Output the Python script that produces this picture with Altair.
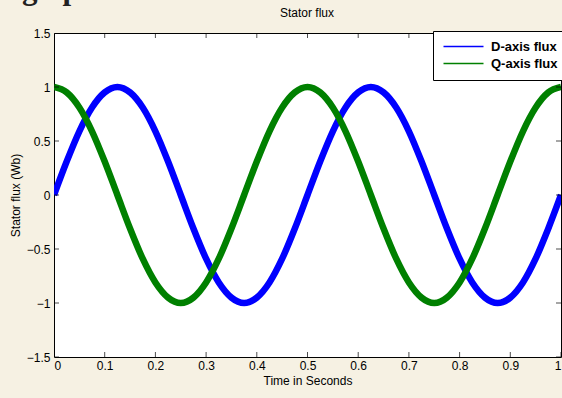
import altair as alt
import pandas as pd

time_s = [round(i * 0.025, 3) for i in range(41)]
d_flux = [0, .31, .59, .81, .95, 1.0, .95, .81, .59, .31, 0, -.31, -.59, -.81, -.95, -1.0, -.95, -.81, -.59, -.31,
          0, .31, .59, .81, .95, 1.0, .95, .81, .59, .31, 0, -.31, -.59, -.81, -.95, -1.0, -.95, -.81, -.59, -.31, 0]
q_flux = [1.0, .95, .81, .59, .31, 0, -.31, -.59, -.81, -.95, -1.0, -.95, -.81, -.59, -.31, 0, .31, .59, .81, .95,
          1.0, .95, .81, .59, .31, 0, -.31, -.59, -.81, -.95, -1.0, -.95, -.81, -.59, -.31, 0, .31, .59, .81, .95, 1.0]
series_names = ["D-axis flux", "Q-axis flux"]
series_colors = ["#0000ff", "#008000"]
x_ticks = [0, 0.1, 0.2, 0.3, 0.4, 0.5, 0.6, 0.7, 0.8, 0.9, 1.0]
y_ticks = [-1.5, -1, -0.5, 0, 0.5, 1, 1.5]
chart_title = ["Stator flux"]
watermark_text = ["g Speed wave"]

df = pd.DataFrame({
    "t": time_s * 2,
    "v": d_flux + q_flux,
    "s": [series_names[0]] * len(time_s) + [series_names[1]] * len(time_s),
})

FONT = "Liberation Sans"
xs = alt.Scale(domain=[0, 1], nice=False, zero=False)
ys = alt.Scale(domain=[-1.5, 1.5], nice=False, zero=False)

lines = alt.Chart(df).mark_line(strokeWidth=6.5, interpolate="monotone", clip=True).encode(
    x=alt.X("t:Q", scale=xs, title="Time in Seconds",
            axis=alt.Axis(values=x_ticks, format="~g", tickSize=0, labelPadding=3, grid=False)),
    y=alt.Y("v:Q", scale=ys, title="Stator flux (Wb)",
            axis=alt.Axis(values=y_ticks, format="~g", tickSize=0, labelPadding=4, grid=False)),
    color=alt.Color("s:N", scale=alt.Scale(domain=series_names, range=series_colors),
                    legend=alt.Legend(title=None, orient="none", legendX=379, legendY=-2,
                                      strokeColor="black", fillColor="white", padding=9,
                                      symbolType="M-1,0L7,0", symbolSize=100, symbolStrokeWidth=1.5,
                                      symbolFillColor="transparent",
                                      labelFontWeight="bold", labelFontSize=13, labelFont=FONT,
                                      labelColor="black", rowPadding=3, labelOffset=36,
                                      labelLimit=200)),
)

xt = pd.DataFrame({"x": x_ticks})
yt = pd.DataFrame({"y": y_ticks})
tick_bot = alt.Chart(xt).mark_tick(orient="vertical", size=10, color="black", thickness=1, clip=True).encode(
    x=alt.X("x:Q", scale=xs), y=alt.datum(-1.5, scale=ys))
tick_top = alt.Chart(xt).mark_tick(orient="vertical", size=10, color="black", thickness=1, clip=True).encode(
    x=alt.X("x:Q", scale=xs), y=alt.datum(1.5, scale=ys))
tick_left = alt.Chart(yt).mark_tick(orient="horizontal", size=10, color="black", thickness=1, clip=True).encode(
    y=alt.Y("y:Q", scale=ys), x=alt.datum(0, scale=xs))
tick_right = alt.Chart(yt).mark_tick(orient="horizontal", size=10, color="black", thickness=1, clip=True).encode(
    y=alt.Y("y:Q", scale=ys), x=alt.datum(1, scale=xs))

title_text = alt.Chart(pd.DataFrame({"w": chart_title})).mark_text(
    font=FONT, fontSize=12, color="black", align="center", baseline="alphabetic"
).encode(text="w:N", x=alt.value(253), y=alt.value(-16))

watermark = alt.Chart(pd.DataFrame({"w": watermark_text})).mark_text(
    font="Liberation Serif", fontSize=31, fontWeight="bold", color="#222222", align="left", baseline="alphabetic"
).encode(text="w:N", x=alt.value(-32), y=alt.value(-34))

chart = alt.layer(lines, tick_bot, tick_top, tick_left, tick_right, title_text, watermark).properties(
    width=507, height=324,
    autosize=alt.AutoSizeParams(type="none"),
    padding={"left": 54, "top": 33, "right": 1, "bottom": 41},
    background="#f6f1e3",
).configure_view(fill="white", stroke="black", strokeWidth=1).configure_axis(
    domain=False, labelFont=FONT, labelFontSize=12, labelColor="black",
    titleFont=FONT, titleFontSize=12, titleFontWeight="normal", titleColor="black",
)

chart.save("out.html", embed_options={"renderer": "svg", "actions": False})
